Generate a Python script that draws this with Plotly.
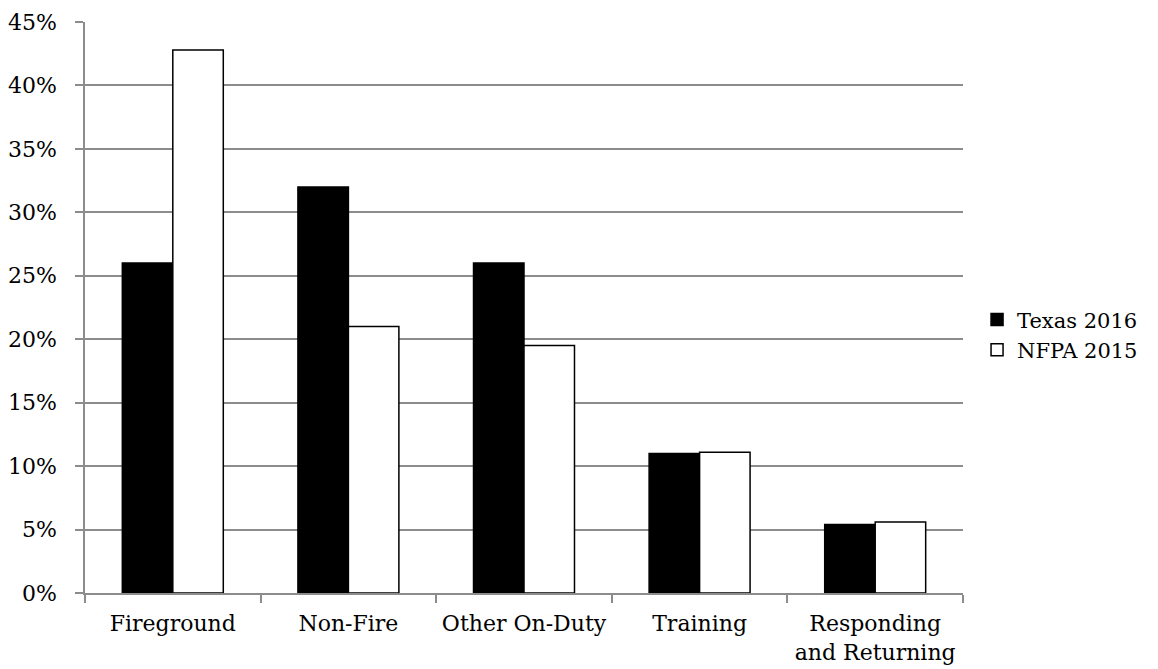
import plotly.graph_objects as go

categories = ["Fireground", "Non-Fire", "Other On-Duty", "Training", "Responding<br>and Returning"]
texas_2016 = [26.0, 32.0, 26.0, 11.0, 5.4]
nfpa_2015 = [42.8, 21.0, 19.5, 11.1, 5.6]
y_ticks = [0, 5, 10, 15, 20, 25, 30, 35, 40, 45]
y_tick_labels = [f"{v}%" for v in y_ticks]

FONT = "DejaVu Serif"
FS = 22
GRID = "#8c8c8c"

fig = go.Figure()
fig.add_trace(go.Bar(
    name="Texas 2016", x=categories, y=texas_2016,
    marker=dict(color="black", line=dict(color="black", width=1.5)),
))
fig.add_trace(go.Bar(
    name="NFPA 2015", x=categories, y=nfpa_2015,
    marker=dict(color="white", line=dict(color="black", width=1.5)),
))

fig.update_layout(
    width=1158, height=669,
    margin=dict(l=85, r=195, t=22, b=76),
    paper_bgcolor="white", plot_bgcolor="white",
    barmode="group", bargap=0.425, bargroupgap=0,
    font=dict(family=FONT, size=FS, color="black"),
    legend=dict(
        x=1.016, y=0.452, xanchor="left", yanchor="middle",
        font=dict(family=FONT, size=21, color="black"),
        itemwidth=30, tracegroupgap=0, borderwidth=0,
    ),
)
fig.update_xaxes(
    type="category", showline=True, linecolor=GRID, linewidth=1.5,
    ticks="outside", tickson="boundaries", ticklen=8, tickcolor=GRID, tickwidth=1.5,
    ticklabelstandoff=10, automargin=False, tickangle=0,
    showgrid=False, tickfont=dict(family=FONT, size=FS, color="black"),
)
fig.update_yaxes(
    range=[0, 45], tickvals=y_ticks, ticktext=y_tick_labels,
    showline=True, linecolor=GRID, linewidth=1.5,
    ticks="outside", ticklen=8, tickcolor=GRID, tickwidth=1.5,
    ticklabelstandoff=14, automargin=False,
    showgrid=True, gridcolor=GRID, gridwidth=1.5, zeroline=False,
    tickfont=dict(family=FONT, size=FS, color="black"),
)

fig.write_html("out.html")
